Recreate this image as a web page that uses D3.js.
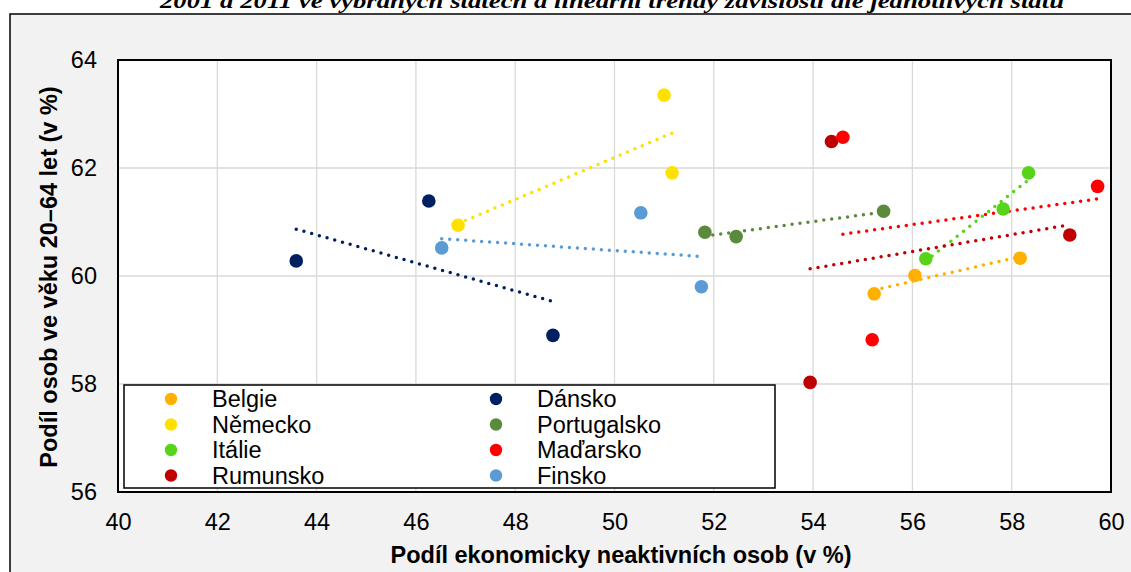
<!DOCTYPE html>
<html>
<head>
<meta charset="utf-8">
<script src="https://cdn.jsdelivr.net/npm/d3@7"></script>
<style>
  body { margin: 0; background: #fff; }
  svg { display: block; font-family: "Liberation Sans", Arial, sans-serif; }
</style>
</head>
<body>
<div id="chart"></div>
<script>
// data
const countries = ["Belgie", "Německo", "Itálie", "Rumunsko", "Dánsko", "Portugalsko", "Maďarsko", "Finsko"];
const countryColors = ["#ffb000", "#ffe100", "#57d41a", "#c00000", "#002060", "#5a8a3c", "#ff0000", "#5b9bd5"];
// podíl ekonomicky neaktivních osob (x)
const inactiveShare = [
  [55.23, 56.05, 58.17],
  [46.85, 51.00, 51.16],
  [56.27, 57.83, 58.34],
  [54.37, 53.94, 59.17],
  [43.59, 46.26, 48.76],
  [51.82, 52.45, 55.42],
  [54.60, 55.19, 59.73],
  [46.52, 50.53, 51.75]
];
// podíl osob ve věku 20–64 let (y)
const ageShare = [
  [59.67, 60.01, 60.33],
  [60.94, 63.35, 61.91],
  [60.32, 61.24, 61.91],
  [62.49, 58.03, 60.76],
  [60.28, 61.39, 58.90],
  [60.81, 60.73, 61.20],
  [62.57, 58.82, 61.66],
  [60.52, 61.17, 59.80]
];
const xTicks = [40, 42, 44, 46, 48, 50, 52, 54, 56, 58, 60];
const yTicks = [56, 58, 60, 62, 64];
const titleText = "2001 a 2011 ve vybraných státech a lineární trendy závislosti dle jednotlivých států";
const xTitle = "Podíl ekonomicky neaktivních osob (v %)";
const yTitle = "Podíl osob ve věku 20–64 let (v %)";

const width = 1131, height = 572;
const margin = { top: 60, right: 20, bottom: 80, left: 118 };
const plotW = 1111 - margin.left;
const plotH = 492 - margin.top;
const fontSize = 23.5;

const svg = d3.select("#chart").append("svg")
  .attr("width", width)
  .attr("height", height);

// outer frame
svg.append("rect")
  .attr("x", 10).attr("y", 14)
  .attr("width", 1200).attr("height", 700)
  .attr("fill", "#f2f2f2")
  .attr("stroke", "#000").attr("stroke-width", 1.5);

// title (cut at top)
svg.append("text")
  .attr("x", 612).attr("y", 8)
  .attr("text-anchor", "middle")
  .attr("font-family", "'Liberation Serif', 'Times New Roman', serif")
  .attr("font-weight", "bold").attr("font-style", "italic")
  .attr("font-size", 20)
  .attr("textLength", 904).attr("lengthAdjust", "spacingAndGlyphs")
  .text(titleText);

const g = svg.append("g").attr("transform", `translate(${margin.left},${margin.top})`);

const x = d3.scaleLinear().domain([40, 60]).range([0, plotW]);
const y = d3.scaleLinear().domain([56, 64]).range([plotH, 0]);

g.append("rect")
  .attr("width", plotW).attr("height", plotH)
  .attr("fill", "#fff");

// grid
g.append("g").selectAll("line").data(xTicks).join("line")
  .attr("x1", d => x(d)).attr("x2", d => x(d))
  .attr("y1", 0).attr("y2", plotH)
  .attr("stroke", "#d9d9d9").attr("stroke-width", 1.3);
g.append("g").selectAll("line").data(yTicks).join("line")
  .attr("x1", 0).attr("x2", plotW)
  .attr("y1", d => y(d)).attr("y2", d => y(d))
  .attr("stroke", "#d9d9d9").attr("stroke-width", 1.3);

// axes
const xAxis = g.append("g")
  .attr("transform", `translate(0,${plotH})`)
  .call(d3.axisBottom(x).tickValues(xTicks).tickSize(0).tickPadding(21));
const yAxis = g.append("g")
  .call(d3.axisLeft(y).tickValues(yTicks).tickSize(0).tickPadding(21));
[xAxis, yAxis].forEach(a => {
  a.select(".domain").remove();
  a.selectAll("text")
    .attr("font-family", "'Liberation Sans', Arial, sans-serif")
    .attr("font-size", fontSize).attr("fill", "#000");
});

// plot border
g.append("rect")
  .attr("width", plotW).attr("height", plotH)
  .attr("fill", "none").attr("stroke", "#000").attr("stroke-width", 2);

// series
const series = countries.map((name, i) => ({
  name,
  color: countryColors[i],
  points: inactiveShare[i].map((v, j) => ({ x: v, y: ageShare[i][j] }))
}));

// linear trend (least squares) over the range of x
function trend(points) {
  const mx = d3.mean(points, d => d.x), my = d3.mean(points, d => d.y);
  const sxy = d3.sum(points, d => (d.x - mx) * (d.y - my));
  const sxx = d3.sum(points, d => (d.x - mx) ** 2);
  const b = sxy / sxx, a = my - b * mx;
  const [x0, x1] = d3.extent(points, d => d.x);
  return [{ x: x0, y: a + b * x0 }, { x: x1, y: a + b * x1 }];
}

const line = d3.line().x(d => x(d.x)).y(d => y(d.y));

g.append("g").selectAll("path").data(series).join("path")
  .attr("d", d => line(trend(d.points)))
  .attr("fill", "none")
  .attr("stroke", d => d.color)
  .attr("stroke-width", 3.5)
  .attr("stroke-linecap", "round")
  .attr("stroke-dasharray", "0 8");

g.append("g").selectAll("g").data(series).join("g")
  .attr("fill", d => d.color)
  .selectAll("circle").data(d => d.points).join("circle")
  .attr("cx", d => x(d.x)).attr("cy", d => y(d.y))
  .attr("r", 6.8);

// legend
const legend = svg.append("g");
legend.append("rect")
  .attr("x", 124).attr("y", 385)
  .attr("width", 651).attr("height", 103)
  .attr("fill", "#fff").attr("stroke", "#000").attr("stroke-width", 1.5);

const legItems = legend.selectAll("g.item").data(series).join("g")
  .attr("class", "item")
  .attr("transform", (d, i) => `translate(${i < 4 ? 171 : 496},${399 + (i % 4) * 25.5})`);
legItems.append("circle").attr("r", 6.2).attr("fill", d => d.color);
legItems.append("text")
  .attr("x", 41).attr("dy", "0.35em")
  .attr("font-size", fontSize)
  .text(d => d.name);

// axis titles
svg.append("text")
  .attr("x", 621).attr("y", 563)
  .attr("text-anchor", "middle")
  .attr("font-weight", "bold").attr("font-size", fontSize)
  .text(xTitle);
svg.append("text")
  .attr("transform", "translate(49,277) rotate(-90)")
  .attr("text-anchor", "middle")
  .attr("dy", "0.35em")
  .attr("font-weight", "bold").attr("font-size", fontSize)
  .text(yTitle);
</script>
</body>
</html>
